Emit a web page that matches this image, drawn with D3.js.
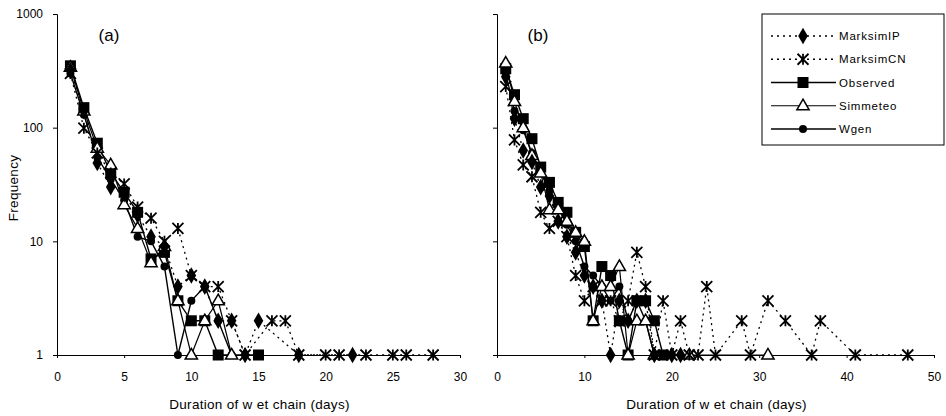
<!DOCTYPE html>
<html><head><meta charset="utf-8">
<script src="https://cdn.jsdelivr.net/npm/d3@7"></script>
<style>
body{margin:0;background:#fff;}
svg{display:block;font-family:"Liberation Sans",Arial,sans-serif;}
</style></head>
<body><svg id="c" width="946" height="416"></svg>
<script>
// ---- data: [day, frequency] ----
const yTicks = [1, 10, 100, 1000];
const xTicksA = [0, 5, 10, 15, 20, 25, 30];
const xTicksB = [0, 10, 20, 30, 40, 50];
const seriesNames = ["MarksimIP", "MarksimCN", "Observed", "Simmeteo", "Wgen"];

const aMarksimIP = [[1,320],[2,140],[3,49],[4,30],[5,26],[6,17],[7,11],[8,9],[9,4],[10,5],[11,4],[12,2],[13,2],[14,1],[15,2],[18,1],[22,1]];
const aMarksimCN = [[1,300],[2,99],[3,60],[4,40],[5,32],[6,20],[7,16],[8,10],[9,13],[10,5],[11,4],[12,4],[13,2],[14,1],[16,2],[17,2],[18,1],[20,1],[21,1],[23,1],[25,1],[26,1],[28,1]];
const aObserved  = [[1,350],[2,150],[3,73],[4,40],[5,27],[6,18],[7,7],[8,8],[9,3],[10,2],[11,2],[12,1],[15,1]];
const aSimmeteo  = [[1,340],[2,140],[3,66],[4,47],[5,21],[6,13],[7,6.5],[8,9],[9,3],[10,1],[11,2],[12,3],[13,1]];
const aWgen      = [[1,300],[2,130],[3,55],[4,35],[5,23],[6,11],[7,10],[8,6],[9,1],[10,3],[11,4],[12,2],[13,1]];

const bMarksimIP = [[1,280],[2,120],[3,63],[4,50],[5,30],[6,25],[7,15],[8,11],[9,8],[10,5],[11,4],[12,3],[13,1],[14,3],[15,2],[16,3],[17,3],[18,1],[20,1],[21,1]];
const bMarksimCN = [[1,230],[2,78],[3,47],[4,37],[5,18],[6,13],[7,15],[8,11],[9,5],[10,3],[11,4],[12,3],[13,3],[14,2],[15,3],[16,8],[17,4],[18,1],[19,3],[20,1],[21,2],[22,1],[23,1],[24,4],[25,1],[28,2],[29,1],[31,3],[33,2],[36,1],[37,2],[41,1],[47,1]];
const bObserved  = [[1,330],[2,195],[3,120],[4,80],[5,45],[6,33],[7,22],[8,18],[9,12],[10,9],[11,2],[12,6],[13,5],[14,2],[15,1],[16,3],[17,3],[18,2],[19,1]];
const bSimmeteo  = [[1,370],[2,170],[3,100],[4,57],[5,40],[6,19],[7,19],[8,15],[9,12],[10,10],[11,2],[12,4],[13,4],[14,6],[15,1],[16,2],[17,2],[18,1],[22,1],[31,1]];
const bWgen      = [[1,300],[2,140],[3,95],[4,60],[5,40],[6,28],[7,20],[8,14],[9,10],[10,6],[11,5],[12,4],[13,3],[14,4],[15,2],[16,3],[17,2],[18,1],[19,1]];

// ---- drawing ----
const svg = d3.select("#c");
const y = d3.scaleLog().domain([1, 1000]).range([355, 14]);
const xA = d3.scaleLinear().domain([0, 30]).range([57, 460]);
const xB = d3.scaleLinear().domain([0, 50]).range([497, 934]);

const styles = {
  MarksimIP: {dash: "2,4", width: 1.3, marker: "diamond"},
  MarksimCN: {dash: "2,4", width: 1.3, marker: "star"},
  Observed:  {dash: null, width: 1.4, marker: "square"},
  Simmeteo:  {dash: null, width: 1.2, marker: "triangle"},
  Wgen:      {dash: null, width: 1.4, marker: "circle"}
};

function drawMarker(g, type, cx, cy) {
  if (type === "diamond") {
    g.append("path").attr("d", d3.symbol().type(d3.symbolDiamond).size(80)()).attr("transform", `translate(${cx},${cy})`).attr("fill", "#000");
  } else if (type === "square") {
    const w = 11;
    g.append("rect").attr("x", cx-w/2).attr("y", cy-w/2).attr("width", w).attr("height", w).attr("fill", "#000");
  } else if (type === "triangle") {
    g.append("path").attr("d", d3.symbol().type(d3.symbolTriangle).size(65)()).attr("transform", `translate(${cx},${cy+0.5})`).attr("fill", "#fff").attr("stroke", "#000").attr("stroke-width", 1.5);
  } else if (type === "circle") {
    g.append("circle").attr("cx", cx).attr("cy", cy).attr("r", 4).attr("fill", "#000");
  } else if (type === "star") {
    const r = 5.5;
    const p = `M${cx-r},${cy-r}L${cx+r},${cy+r}M${cx-r},${cy+r}L${cx+r},${cy-r}M${cx},${cy-r}L${cx},${cy+r}`;
    g.append("path").attr("d", p).attr("stroke", "#000").attr("stroke-width", 1.8).attr("fill", "none");
  }
}

function panel(x, ticks, showYLabels, data, label, labelX) {
  const g = svg.append("g");
  const ya = d3.axisLeft(y).tickValues(yTicks).tickSize(4).tickPadding(10)
    .tickFormat(showYLabels ? d3.format("d") : () => "");
  const gy = g.append("g").attr("transform", `translate(${x(0)},0)`).call(ya);
  gy.select(".domain").attr("stroke-width", 1);
  gy.selectAll("text").attr("font-size", 12).attr("fill", "#000");
  const xa = d3.axisBottom(x).tickValues(ticks).tickSize(3).tickPadding(14).tickFormat(d3.format("d"));
  const gx = g.append("g").attr("transform", `translate(0,${y(1)})`).call(xa);
  gx.selectAll("text").attr("font-size", 12).attr("fill", "#000");
  gx.select(".domain").attr("stroke-width", 1);
  const line = d3.line().x(d => x(d[0])).y(d => y(d[1]));
  data.forEach(([name, pts]) => {
    const st = styles[name];
    g.append("path").datum(pts).attr("d", line).attr("fill", "none").attr("stroke", "#000")
      .attr("stroke-width", st.width).attr("stroke-dasharray", st.dash);
  });
  data.forEach(([name, pts]) => {
    const st = styles[name];
    const mg = g.append("g");
    pts.forEach(d => drawMarker(mg, st.marker, x(d[0]), y(d[1])));
  });
  g.append("text").attr("x", labelX).attr("y", 41).attr("font-size", 17).attr("text-anchor", "middle").text(label);
  g.append("text").attr("x", (x.range()[0] + x.range()[1]) / 2 + 1).attr("y", 409)
    .attr("font-size", 13.5).attr("text-anchor", "middle").attr("letter-spacing", 0.3)
    .text("Duration of w et chain (days)");
}

panel(xA, xTicksA, true, [["Observed", aObserved], ["Wgen", aWgen], ["Simmeteo", aSimmeteo], ["MarksimCN", aMarksimCN], ["MarksimIP", aMarksimIP]], "(a)", 109);
panel(xB, xTicksB, false, [["Observed", bObserved], ["Wgen", bWgen], ["Simmeteo", bSimmeteo], ["MarksimCN", bMarksimCN], ["MarksimIP", bMarksimIP]], "(b)", 538);

svg.append("text").attr("transform", "translate(18,188) rotate(-90)").attr("text-anchor", "middle")
  .attr("font-size", 13.5).attr("letter-spacing", 0.3).text("Frequency");

// legend
const lg = svg.append("g");
lg.append("rect").attr("x", 762).attr("y", 14).attr("width", 182).attr("height", 131)
  .attr("fill", "#fff").attr("stroke", "#000").attr("stroke-width", 1);
const rowsY = d3.scalePoint().domain(seriesNames).range([36, 129]);
seriesNames.forEach(n => {
  const st = styles[n];
  const yy = rowsY(n);
  lg.append("line").attr("x1", 771).attr("x2", 836).attr("y1", yy).attr("y2", yy)
    .attr("stroke", "#000").attr("stroke-width", st.width).attr("stroke-dasharray", st.dash);
  drawMarker(lg, st.marker, 803, yy);
  lg.append("text").attr("x", 839).attr("y", yy + 4).attr("font-size", 11.5).attr("letter-spacing", 0.8).text(n);
});
</script></body></html>
